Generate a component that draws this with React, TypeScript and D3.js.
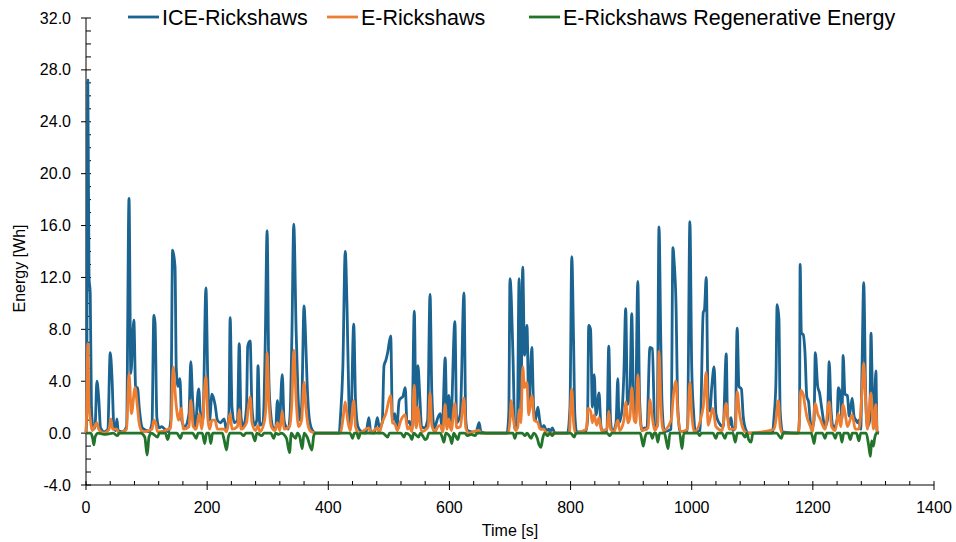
import React, { useEffect, useRef } from "react";
import * as d3 from "d3";

// [time s, energy Wh]
const iceSeries: [number, number][] = [
  [0,0],[1,1.2],[3,27.2],[5,12],[7,10.8],[9,2],[12,0.3],[15,0.5],[18,4.0],[21,2.7],[24,0.4],[30,0.1],[36,0.3],[40,6.2],[43,4.2],[46,0.5],[49,0.2],[51,1.1],[53,0.2],[60,0.1],[67,0.5],[71,18.1],[74,4.6],[79,8.7],[82,3.5],[85,3.5],[88,1.9],[93,0.4],[100,0.2],[104,0.1],[109,0.8],[112,9.1],[114,8.5],[117,1.2],[121,0.4],[125,0.5],[130,0.3],[136,0.1],[140,1.0],[143,14.1],[147,12.8],[149,5],[152,3.6],[155,4.2],[158,1.0],[163,0.5],[170,1.5],[173,5.5],[176,2.6],[180,0.3],[186,3.4],[189,1.5],[193,1.0],[198,11.2],[201,4.3],[204,1.0],[208,3.0],[213,2.2],[217,1.0],[222,0.8],[228,1.1],[232,0.2],[236,1.5],[238,8.9],[241,2.0],[245,0.8],[250,1.0],[253,6.9],[256,1.2],[260,0.5],[265,2.0],[267,6.7],[271,7.1],[274,2.0],[278,0.6],[282,1.0],[284,5.2],[287,0.6],[292,0.8],[294,2.5],[296,7.2],[299,15.6],[302,4],[305,1.5],[309,0.4],[313,0.3],[316,2.5],[319,0.6],[324,4.5],[327,1.0],[330,0.5],[334,0.3],[337,1.5],[340,7.7],[343,16.1],[347,7.7],[350,3],[353,1.0],[356,2.0],[360,9.8],[362,8.1],[365,3.9],[369,1.0],[374,0.2],[380,0],[418,0],[420,1.2],[424,5.0],[428,14.0],[431,9.6],[434,2.5],[437,0.5],[442,8.4],[445,2.5],[449,0.5],[455,0.1],[462,0],[467,1.2],[470,0.1],[476,0],[481,1.2],[484,0.5],[489,0.8],[492,5.2],[495,5.6],[498,6.2],[503,7.5],[506,1.0],[510,1.5],[513,0.3],[517,2.5],[520,2.7],[523,2.8],[527,3.5],[530,0.8],[534,0.9],[538,0.2],[542,9.4],[545,0.5],[548,5.2],[551,2.9],[554,0.5],[559,0.4],[564,1.0],[568,10.7],[571,3.0],[575,0.4],[581,1.2],[585,1.5],[588,0.2],[593,5.8],[596,0.5],[599,2.9],[602,0.4],[609,8.6],[612,0.8],[618,1.5],[624,10.8],[627,1.0],[630,0.2],[637,0.1],[644,0.1],[649,0.8],[652,0.1],[660,0],[695,0],[698,1.5],[700,11.9],[705,5.8],[708,0.3],[712,0.4],[715,11.9],[718,1.5],[721,12.8],[724,6.0],[728,8.3],[731,2.0],[736,6.6],[739,2.0],[742,1.0],[746,2.0],[749,1.0],[752,0.3],[756,0.6],[760,0.2],[764,0.3],[766,0.1],[770,0.4],[774,0],[795,0],[799,2.0],[802,13.6],[805,7.0],[807,1.5],[810,0.1],[825,0.1],[828,1.0],[830,8.3],[833,8.0],[836,2.0],[839,4.5],[842,1.4],[847,3.1],[850,0.6],[853,0.1],[860,0.2],[863,6.7],[866,1.0],[869,0.1],[875,0.8],[878,4.2],[880,0.8],[885,1.8],[888,4.6],[891,9.6],[894,2.2],[898,3.3],[901,9.2],[904,2.2],[907,1.2],[911,11.7],[914,2.5],[918,0.2],[922,0.4],[926,0.3],[931,6.6],[935,6.5],[939,0.6],[943,0.5],[946,15.9],[949,7.0],[951,2.3],[955,0.1],[966,0.3],[969,14.3],[971,13.2],[974,10.1],[977,2.0],[981,0.1],[993,0.2],[997,16.3],[1000,5.1],[1003,1.7],[1006,0.1],[1014,0.2],[1019,9.3],[1021,9.5],[1024,12.0],[1027,2.6],[1030,1.7],[1033,3.5],[1037,5.1],[1040,1.5],[1045,0.8],[1052,0.5],[1057,6.1],[1059,1.5],[1062,0.6],[1065,1.2],[1068,0.2],[1072,0.5],[1075,8.1],[1078,3.6],[1082,3.4],[1085,1.3],[1089,0.3],[1094,0],[1133,0],[1136,1.3],[1139,3.9],[1141,9.9],[1144,8.8],[1146,1.7],[1150,0.1],[1176,0],[1178,1.5],[1179,13.0],[1181,7.7],[1184,7.6],[1187,6.2],[1190,2.8],[1193,2.4],[1196,0.8],[1198,0.3],[1202,1.0],[1204,6.2],[1208,3.6],[1211,3.1],[1215,1.8],[1220,0.5],[1224,1.0],[1227,5.5],[1230,1.8],[1234,0.4],[1240,1.0],[1242,3.5],[1245,3.1],[1248,1.1],[1250,6.0],[1253,3.0],[1257,2.9],[1260,1.3],[1265,2.7],[1268,1.3],[1271,1.0],[1274,0.8],[1276,1.0],[1279,0.3],[1281,4.6],[1284,11.6],[1287,3.4],[1290,0.5],[1294,1.0],[1296,7.7],[1298,3.8],[1301,0.5],[1304,4.8],[1306,0.1],[1309,0],
];

const eSeries: [number, number][] = [
  [0,0],[1,1.5],[3,6.9],[5,2],[7,1.1],[10,0.2],[18,0.8],[21,0.3],[30,0],[38,0.3],[41,1.1],[44,0.3],[51,0.3],[54,0],[67,0.3],[71,4.6],[75,1.5],[81,3.5],[85,2.0],[88,0.7],[93,0.1],[109,0.3],[112,1.0],[115,0.8],[118,0.1],[140,0.4],[144,5.1],[148,2.6],[153,1.0],[157,1.9],[161,0.3],[170,0.5],[173,2.5],[177,0.5],[182,0.3],[187,1.5],[191,0.3],[198,4.4],[201,1.2],[204,0.3],[208,1.0],[213,1.0],[217,0.3],[228,0.3],[232,0.1],[238,1.5],[241,0.3],[250,0.5],[253,1.8],[256,0.3],[265,0.8],[268,2.0],[271,2.8],[274,0.8],[280,0.2],[284,0.6],[287,0.1],[294,0.8],[297,2.0],[299,6.2],[302,2.5],[306,0.5],[312,0.2],[316,0.8],[320,0.2],[324,1.7],[327,0.3],[336,0.5],[340,2.5],[343,6.4],[347,2.5],[351,0.5],[356,1.0],[360,3.9],[363,2.0],[367,0.5],[372,0.1],[380,0],[420,0],[424,1.0],[428,2.4],[432,1.0],[436,0.2],[442,2.5],[445,0.5],[450,0],[467,0.4],[470,0],[481,0.4],[484,0],[489,0.8],[495,1.5],[503,2.9],[506,0.8],[510,0.7],[514,0.2],[520,1.0],[527,1.4],[531,0.3],[534,0.5],[538,0.1],[542,3.7],[545,0.4],[548,2.0],[551,0.8],[555,0.1],[559,0.2],[565,0.5],[568,3.1],[571,0.6],[576,0.1],[581,0.5],[585,0.6],[589,0.1],[593,2.2],[596,0.3],[599,1.1],[603,0.2],[609,2.3],[612,0.4],[618,0.5],[624,2.7],[627,0.4],[632,0],[649,0.2],[652,0],[697,0],[700,1.0],[702,2.5],[705,1.3],[709,0.2],[713,0.5],[715,1.8],[718,0.8],[721,5.1],[724,3.5],[728,3.9],[731,1.4],[736,2.9],[740,1.0],[746,0.8],[750,0.3],[756,0.3],[760,0],[798,0],[800,2.0],[802,3.4],[805,0.8],[808,0],[826,0.3],[829,1.9],[833,1.7],[836,0.8],[839,1.4],[843,0.6],[847,1.2],[851,0.2],[860,0.3],[863,1.7],[866,0.3],[872,0.1],[878,1.0],[881,0.2],[888,1.0],[891,2.4],[895,0.8],[898,1.2],[901,3.5],[905,1.0],[908,0.8],[911,4.5],[914,1.6],[918,0.2],[928,0.4],[931,2.6],[935,1.2],[939,0.2],[944,0.8],[946,6.3],[949,2.3],[953,0.2],[966,1.0],[970,3.0],[974,4.0],[977,1.5],[982,0.1],[993,0.3],[997,3.9],[1000,1.5],[1004,0.1],[1019,2.0],[1024,4.7],[1027,0.6],[1035,1.9],[1040,0.5],[1050,0.2],[1057,2.3],[1062,0.3],[1072,0.3],[1075,3.2],[1079,1.5],[1083,0.6],[1088,0.1],[1094,0],[1136,0.3],[1139,1.0],[1143,2.5],[1146,0.5],[1150,0],[1176,0],[1178,1.1],[1180,3.3],[1184,3.0],[1187,2.1],[1190,1.3],[1196,0.5],[1199,0.1],[1204,2.3],[1208,1.5],[1212,1.1],[1220,0.3],[1227,2.4],[1231,0.5],[1237,0.2],[1242,1.5],[1246,0.5],[1250,2.2],[1254,1.3],[1257,0.5],[1265,1.4],[1270,0.3],[1276,0.3],[1281,3.1],[1284,5.4],[1287,2.6],[1290,0.3],[1296,3.1],[1300,0.3],[1304,2.2],[1306,0.1],[1309,0],
];

const regenSeries: [number, number][] = [
  [0,0],[8,0],[11,-0.4],[13,-0.9],[15,-0.3],[20,0],[30,-0.1],[45,0],[52,-0.2],[55,0],[90,0],[97,-0.3],[101,-1.7],[104,-0.3],[108,0],[118,-0.3],[121,0],[131,0],[135,-0.5],[138,0],[150,0],[156,-0.4],[159,0],[176,0],[182,-0.4],[185,0],[192,0],[196,-0.8],[199,0],[203,0],[206,-0.8],[209,0],[225,0],[228,-0.5],[232,-1.3],[235,-0.3],[238,0],[255,0],[260,-0.2],[264,0],[274,0],[279,-0.6],[282,0],[290,-0.2],[294,0],[305,0],[310,-0.4],[313,0],[318,-0.1],[322,0],[331,-0.4],[336,-1.5],[339,0],[342,-0.2],[346,-0.4],[349,0],[353,-0.3],[357,-1.2],[360,0],[365,-0.3],[373,-1.3],[376,-0.2],[379,0],[436,0],[440,-0.4],[443,0],[447,0],[450,-0.4],[453,0],[490,0],[495,-0.2],[498,-0.3],[501,0],[520,0],[525,-0.3],[528,0],[535,-0.2],[538,-0.5],[541,0],[549,-0.3],[552,0],[557,-0.3],[560,-0.5],[563,-0.4],[566,0],[585,0],[588,-0.3],[591,-0.7],[594,0],[601,-0.3],[604,-0.8],[607,0],[614,-0.5],[617,0],[625,0],[630,-0.2],[636,-0.1],[642,-0.2],[646,0],[705,0],[708,-0.4],[711,0],[720,0],[725,-0.2],[728,0],[735,-0.4],[739,0],[745,-0.4],[748,-0.9],[751,-1.1],[754,-0.4],[757,0],[762,-0.2],[766,0],[770,-0.2],[773,0],[800,0],[806,-0.3],[809,0],[860,0],[865,-0.2],[868,0],[915,0],[918,-0.6],[920,-1.0],[923,-0.3],[926,0],[932,0],[935,-0.4],[938,0],[941,0],[944,-0.7],[947,0],[955,0],[958,-0.6],[961,-1.2],[964,0],[980,0],[984,-1.2],[987,0],[1010,0],[1013,-0.2],[1016,0],[1035,0],[1040,-0.4],[1043,0],[1050,0],[1055,-0.4],[1058,0],[1068,0],[1072,-0.7],[1075,0],[1083,0],[1088,-0.3],[1091,0],[1094,-0.5],[1098,-0.7],[1101,0],[1140,0],[1148,-0.4],[1151,0],[1197,0],[1200,-0.4],[1202,-0.8],[1205,0],[1216,0],[1220,-0.4],[1223,0],[1233,0],[1237,-0.4],[1240,0],[1245,0],[1248,-0.7],[1251,0],[1258,0],[1262,-0.5],[1265,0],[1272,0],[1276,-0.6],[1279,0],[1288,0],[1292,-0.9],[1295,-1.8],[1297,-0.6],[1300,-1.0],[1302,-0.4],[1305,0],[1309,0],
];

const seriesNames = ["ICE-Rickshaws", "E-Rickshaws", "E-Rickshaws Regenerative Energy"];
const seriesColors = ["#1b6390", "#ed7d31", "#21742a"];
const xTicks = [0, 200, 400, 600, 800, 1000, 1200, 1400];
const yTicks = [-4, 0, 4, 8, 12, 16, 20, 24, 28, 32];

const W = 956, H = 542;
const left = 86, right = 934, top = 18, bottom = 485;
const font = "Arial, 'Liberation Sans', sans-serif";

export default function App() {
  const ref = useRef<SVGSVGElement>(null);

  useEffect(() => {
    const svg = d3.select(ref.current);
    svg.selectAll("*").remove();

    const x = d3.scaleLinear().domain([0, 1400]).range([left, right]);
    const y = d3.scaleLinear().domain([-4, 32]).range([bottom, top]);

    // minor ticks
    const xMinor = d3.range(0, 1401, 40).filter((v) => v % 200 !== 0);
    const yMinor = d3.range(-4, 33, 1).filter((v) => v % 4 !== 0);

    const g = svg.append("g");

    g.selectAll(".xminor").data(xMinor).join("line")
      .attr("x1", (d) => x(d)).attr("x2", (d) => x(d))
      .attr("y1", bottom).attr("y2", bottom - 4)
      .attr("stroke", "#000").attr("stroke-width", 1);
    g.selectAll(".yminor").data(yMinor).join("line")
      .attr("x1", left).attr("x2", left + 5)
      .attr("y1", (d) => y(d)).attr("y2", (d) => y(d))
      .attr("stroke", "#000").attr("stroke-width", 1);

    g.selectAll(".xmajor").data(xTicks).join("line")
      .attr("x1", (d) => x(d)).attr("x2", (d) => x(d))
      .attr("y1", bottom - 4).attr("y2", bottom + 5)
      .attr("stroke", "#000").attr("stroke-width", 1);
    g.selectAll(".ymajor").data(yTicks).join("line")
      .attr("x1", left - 5).attr("x2", left + 5)
      .attr("y1", (d) => y(d)).attr("y2", (d) => y(d))
      .attr("stroke", "#000").attr("stroke-width", 1);

    g.append("line").attr("x1", left).attr("x2", right)
      .attr("y1", bottom).attr("y2", bottom).attr("stroke", "#000");
    g.append("line").attr("x1", left).attr("x2", left)
      .attr("y1", top).attr("y2", bottom).attr("stroke", "#000");

    g.selectAll(".xlab").data(xTicks).join("text")
      .attr("x", (d) => x(d)).attr("y", bottom + 28)
      .attr("text-anchor", "middle")
      .attr("font-family", font).attr("font-size", 16)
      .text((d) => String(d));
    g.selectAll(".ylab").data(yTicks).join("text")
      .attr("x", left - 15).attr("y", (d) => y(d) + 5.5)
      .attr("text-anchor", "end")
      .attr("font-family", font).attr("font-size", 16)
      .text((d) => d.toFixed(1));

    g.append("text").attr("x", 510).attr("y", 536)
      .attr("text-anchor", "middle").attr("font-family", font).attr("font-size", 16)
      .text("Time [s]");
    g.append("text").attr("transform", `translate(25, ${(top + bottom) / 2 + 17}) rotate(-90)`)
      .attr("text-anchor", "middle").attr("font-family", font).attr("font-size", 16)
      .text("Energy [Wh]");

    const line = d3.line<[number, number]>()
      .x((d) => x(d[0])).y((d) => y(d[1]))
      .curve(d3.curveMonotoneX);

    [iceSeries, eSeries, regenSeries].forEach((s, i) => {
      g.append("path").datum(s)
        .attr("d", line)
        .attr("fill", "none")
        .attr("stroke", seriesColors[i])
        .attr("stroke-width", 2.8)
        .attr("stroke-linejoin", "round");
    });

    // legend
    const legendX = [128, 327, 529];
    seriesNames.forEach((name, i) => {
      g.append("line")
        .attr("x1", legendX[i]).attr("x2", legendX[i] + 31)
        .attr("y1", 17).attr("y2", 17)
        .attr("stroke", seriesColors[i]).attr("stroke-width", 2.8);
      g.append("text")
        .attr("x", legendX[i] + 34).attr("y", 25)
        .attr("font-family", font).attr("font-size", 21.5)
        .text(name);
    });
  }, []);

  return (
    <svg ref={ref} width={W} height={H}
      style={{ position: "absolute", left: 0, top: 0, display: "block", background: "#fff" }} />
  );
}
